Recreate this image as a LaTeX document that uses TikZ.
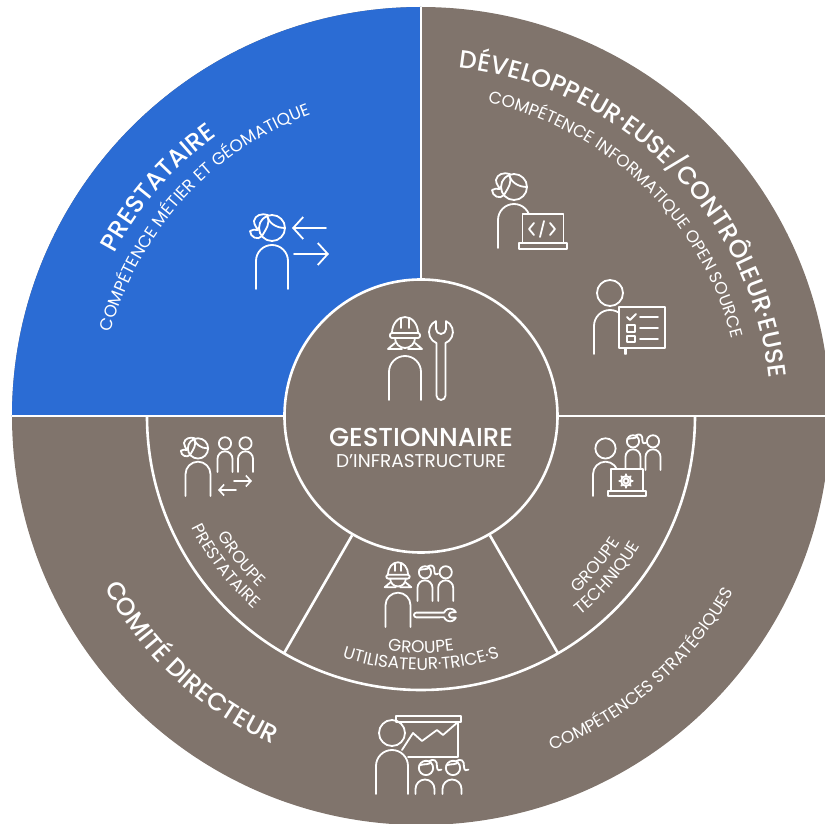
\documentclass[tikz,border=0pt]{standalone}
\usepackage{fontspec}
\setmainfont{Poppins}
\newfontfamily\mediumfont{Poppins Medium}
\usetikzlibrary{arrows.meta,decorations.text}
\definecolor{ringbrown}{RGB}{128,116,108}
\definecolor{zoneblue}{RGB}{43,108,212}
\newcommand{\personbody}{\draw[iconline] (-16,0) -- (-16,28) arc[start angle=180,end angle=0,radius=16] -- (16,0);}
\newcommand{\curlhair}{
	\draw[iconline] (-12,66) .. controls (-2,69) and (6,66) .. (9,72);
	\draw[iconline] (5,73) .. controls (14,79) and (21,75) .. (20,63) .. controls (20,56) and (25,55) .. (28,58);
}
\newcommand{\bigfont}{\mediumfont\fontsize{25}{30}\selectfont\color{white}}
\newcommand{\smallfont}{\fontsize{17}{20}\selectfont\color{white}}
\newcommand{\curvedlabel}[5]{
	\path[decorate,decoration={text along path,text align=center,text={|#1|#5}}] (#2:#4) arc[start angle=#2,end angle=#3,radius=#4];
}
\tikzset{
	whiteline/.style={draw=white,line width=2.6},
	iconline/.style={draw=white,line width=1.8,line cap=round,line join=round},
	iconarrow/.style={iconline,-{Straight Barb[length=10pt,width=22pt,line width=1.8]}},
	smallarrow/.style={iconline,-{Straight Barb[length=5pt,width=11pt,line width=1.6]}},
	hubdisc/.style={circle,fill=ringbrown,whiteline,minimum size=273,inner sep=0pt},
	man/.pic={
		\personbody
		\draw[iconline] (0,61) circle (13);
	},
	woman/.pic={
		\personbody
		\draw[iconline] (0,61) circle (13);
		\draw[iconline] (-5,73) .. controls (-3,66) and (4,61) .. (13,61);
		\draw[iconline] (-5,73) .. controls (-1,66) and (-6,60) .. (-10,53);
		\draw[iconline] (-4,74) .. controls (-10,76) and (-17,74) .. (-18,68) .. controls (-18,64) and (-15,61) .. (-14,59) .. controls (-17,60) and (-20,59) .. (-22,58) .. controls (-22,52) and (-14,48) .. (-10,53);
	},
	curlhead/.pic={
		\draw[iconline] (0,61) circle (13);
		\curlhair
	},
	curlperson/.pic={
		\personbody
		\draw[iconline] (0,61) circle (13);
		\curlhair
	},
	hatperson/.pic={
		\personbody
		\draw[iconline] (-13,67) .. controls (-13,76) and (-7,83) .. (0,83) .. controls (7,83) and (13,76) .. (13,67);
		\draw[iconline,rounded corners=2] (-15,62) rectangle (15,67);
		\draw[iconline] (-4,82) -- (-4,72) (4,82) -- (4,72);
		\draw[iconline] (-10,62) arc[start angle=180,end angle=360,radius=10];
		\draw[iconline] (-10,57) -- (-17,51) -- (-3,51) (10,57) -- (17,51) -- (3,51);
	},
	wrench/.pic={
		\draw[iconline] (-4.5,4.5) -- (-4.5,56.9) arc[start angle=248,end angle=115,radius=12] -- (-5,71) arc[start angle=180,end angle=360,radius=5] -- (5,78.9) arc[start angle=65,end angle=-68,radius=12] -- (4.5,4.5) arc[start angle=0,end angle=-180,radius=4.5] -- cycle;
	},
	laptop/.pic={
		\draw[iconline,fill=ringbrown] (-20.5,6) rectangle (20.5,35);
		\draw[iconline,fill=ringbrown] (-24,0) rectangle (24,6);
	},
}
\begin{document}
\begin{tikzpicture}[x=1pt,y=1pt]
	\useasboundingbox (-421,-408) rectangle (404,416);
	\clip (-421,-408) rectangle (404,416);
	\fill[ringbrown] (0,0) circle (409);
	\fill[zoneblue] (0,0) -- (180:409) arc[start angle=180,end angle=90,radius=409] -- cycle;
	\node[hubdisc] (hub) at (0,0) {};
	\draw[whiteline] (hub.90) -- (90:409);
	\draw[whiteline] (hub.180) -- (180:409);
	\draw[whiteline] (hub.0) -- (0:409);
	\draw[whiteline] (180:274) arc[start angle=180,end angle=360,radius=274];
	\draw[whiteline] (hub.240) -- (240:274);
	\draw[whiteline] (hub.300) -- (300:274);

	\node[text=white,font=\mediumfont\fontsize{26}{30}\selectfont] (gestionnaire) at (0,-21) {GESTIONNAIRE};
	\node[text=white,font=\fontsize{18.5}{22}\selectfont] (infrastructure) at (0,-45) {D’INFRASTRUCTURE};

	\curvedlabel{\bigfont}{170}{108}{347}{PRESTATAIRE}
	\curvedlabel{\smallfont}{178}{97}{321}{COMP{\'E}TENCE M{\'E}TIER ET G{\'E}OMATIQUE}
	\curvedlabel{\bigfont}{95}{-5}{350}{D{\'E}VELOPPEUR{\textperiodcentered}EUSE/CONTR{\^O}LEUR{\textperiodcentered}EUSE}
	\curvedlabel{\smallfont}{88}{4}{320}{COMP{\'E}TENCE INFORMATIQUE OPEN SOURCE}
	\curvedlabel{\bigfont}{192}{262}{360}{COMIT{\'E} DIRECTEUR}
	\curvedlabel{\smallfont}{280}{342}{359}{COMP{\'E}TENCES STRAT{\'E}GIQUES}
	\curvedlabel{\smallfont}{193}{244}{236}{GROUPE}
	\curvedlabel{\smallfont}{190}{245}{255}{PRESTATAIRE}
	\curvedlabel{\smallfont}{250}{290}{237}{GROUPE}
	\curvedlabel{\smallfont}{240}{300}{254}{UTILISATEUR{\textperiodcentered}TRICE{\textperiodcentered}S}
	\curvedlabel{\smallfont}{295}{344}{236}{GROUPE}
	\curvedlabel{\smallfont}{294}{344}{255}{TECHNIQUE}

	\pic at (-149,127) {woman};
	\draw[iconarrow] (-95,188) -- (-129,188);
	\draw[iconarrow] (-127,162) -- (-92,162);

	\pic at (-16,16) {hatperson};
	\pic at (20,16) {wrench};

	\pic at (93,168) {woman};
	\pic at (122,167) {laptop};
	\draw[iconline] (113,193) -- (108,187) -- (113,181);
	\draw[iconline] (129,193) -- (134,187) -- (129,181);
	\draw[iconline] (123,195) -- (119,179);

	\pic at (189,62) {man};
	\draw[iconline] (204,68) -- (204,62);
	\draw[iconline,fill=ringbrown] (198,68) rectangle (244,109);
	\draw[iconline] (206,99) -- (209,96) -- (215,102);
	\draw[iconline] (206,84) rectangle (214,91);
	\draw[iconline] (206,74) rectangle (214,80);
	\foreach \y in {99,88,77}
		\draw[iconline] (219,\y) -- (237,\y);

	\pic[scale=.78] at (-223,-80) {woman};
	\pic[scale=.47] at (-196,-56) {man};
	\pic[scale=.47] at (-175.5,-56) {man};
	\draw[smallarrow] (-187,-65) -- (-169,-65);
	\draw[smallarrow] (-185,-74) -- (-203,-74);

	\pic[scale=.78] at (-23,-211) {hatperson};
	\pic[scale=.47] at (4,-185) {curlperson};
	\pic[scale=.47] at (24.7,-185) {man};
	\pic[scale=.53,rotate=-90] at (-7,-199) {wrench};

	\pic[scale=.78] at (184.5,-80) {man};
	\pic[scale=.47] at (212,-54) {curlperson};
	\pic[scale=.47] at (232,-54) {man};
	\pic[scale=.78] at (206,-80) {laptop};
	\draw[iconline] (205,-65) circle (2.5) (205,-65) circle (5);
	\foreach \a in {0,45,...,315}
		\draw[iconline] (205,-65) ++(\a:5) -- ++(\a:1.8);

	\pic at (-29,-378) {man};
	\draw[iconline] (-25,-306) rectangle (40,-300);
	\draw[iconline] (37,-306) -- (37,-341) -- (-13,-341);
	\draw[iconline] (-19,-334) -- (-8,-317) -- (1,-325) -- (16,-314) -- (22,-319) -- (37,-306);
	\foreach \x in {4,31}{
		\draw[iconline] (\x-9.5,-378) -- (\x-9.5,-373) arc[start angle=180,end angle=0,radius=9.5] -- (\x+9.5,-378);
		\pic[scale=.55] at (\x+1,-385.5) {curlhead};
	}
\end{tikzpicture}
\end{document}
